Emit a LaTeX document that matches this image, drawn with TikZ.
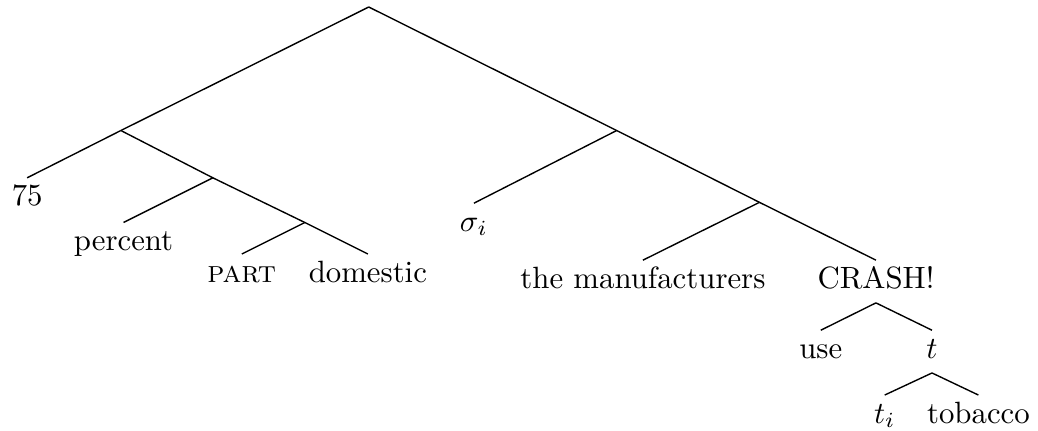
\documentclass[tikz,border=0pt]{standalone}
\usepackage{amsmath}
\usepackage{tikz}
\tikzset{
  word/.style={anchor=north, inner sep=2pt,
    text height=1.6ex, text depth=0.6ex},
  branch/.style={line width=0.45pt, color=black}
}

\begin{document}
\begin{tikzpicture}
  \useasboundingbox (0,0) rectangle (11.85,-4.91);
  % Junctions
  \coordinate (root) at (4.21,-0.08);
  \coordinate (jl) at (1.38,-1.49);
  \coordinate (jpct) at (2.43,-2.03);
  \coordinate (jpart) at (3.48,-2.54);
  \coordinate (jr) at (7.04,-1.49);
  \coordinate (jman) at (8.67,-2.31);
  % Words
  \node[word] (n75) at (0.31,-2.03) {75};
  \node[word] (pct) at (1.41,-2.54) {percent};
  \node[word] (part) at (2.76,-2.90) {\textsc{part}};
  \node[word] (dom) at (4.20,-2.90) {domestic};
  \node[word] (sig) at (5.41,-2.32) {$\sigma_i$};
  \node[word] (man) at (7.34,-2.97) {the manufacturers};
  \node[word] (crash) at (10.00,-2.97) {CRASH!};
  \node[word] (use) at (9.37,-3.77) {use};
  \node[word] (t) at (10.64,-3.77) {$t$};
  \node[word] (ti) at (10.10,-4.51) {$t_i$};
  \node[word] (tob) at (11.17,-4.51) {tobacco};
  % Left branch
  \draw[branch] (root) -- (jl);
  \draw[branch] (jl) -- (n75.north);
  \draw[branch] (jl) -- (jpct);
  \draw[branch] (jpct) -- (pct.north);
  \draw[branch] (jpct) -- (jpart);
  \draw[branch] (jpart) -- (part.north);
  \draw[branch] (jpart) -- (dom.north);
  % Right branch
  \draw[branch] (root) -- (jr);
  \draw[branch] (jr) -- (sig.north);
  \draw[branch] (jr) -- (jman);
  \draw[branch] (jman) -- (man.north);
  \draw[branch] (jman) -- (crash.north);
  % CRASH!
  \draw[branch] (crash.south) -- (use.north);
  \draw[branch] (crash.south) -- (t.north);
  \draw[branch] (t.south) -- (ti.north);
  \draw[branch] (t.south) -- (tob.north);
\end{tikzpicture}
\end{document}
